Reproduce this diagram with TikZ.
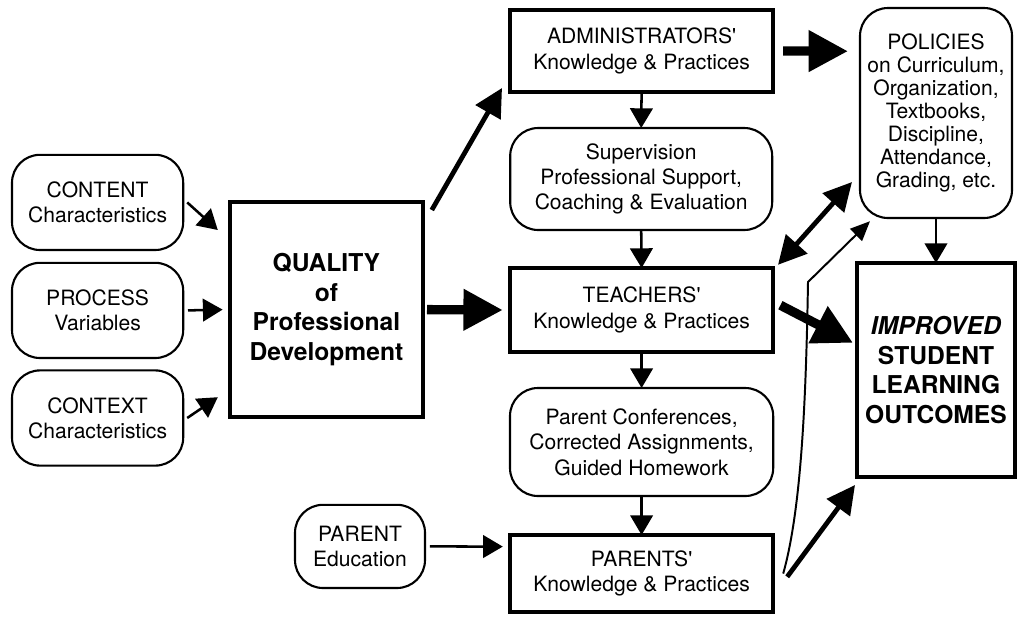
\documentclass[tikz,border=0pt]{standalone}
\usepackage{fontspec}
\setmainfont{TeX Gyre Heros}
\usetikzlibrary{arrows.meta}

\begin{document}
\begin{tikzpicture}[every node/.style={align=center, inner sep=0pt, outer sep=0pt, font=\fontsize{15}{18}\selectfont},
roundbox/.style={draw, line width=1.5pt, rounded corners=0.7cm},
heavybox/.style={draw, line width=3.2pt},
bigbold/.style={font=\fontsize{17.5}{21}\selectfont\bfseries},
thinarr/.style={line width=1.8pt, -{Triangle[length=14pt,width=16pt]}},
hairarr/.style={line width=1.4pt, -{Triangle[length=14pt,width=12pt]}},
medarr/.style={line width=3.4pt, -{Triangle[length=20pt,width=20pt]}},
twoarr/.style={line width=3.4pt, {Triangle[length=20pt,width=20pt]}-{Triangle[length=20pt,width=20pt]}},
fatarr/.style={line width=6.6pt, -{Triangle[length=28pt,width=28pt]}}]
\useasboundingbox (0,0) rectangle (25.45,-15.4);

\node[roundbox, minimum width=4.28cm, minimum height=2.38cm] (content) at (2.44,-5.06) {CONTENT\\Characteristics};
\node[roundbox, minimum width=4.28cm, minimum height=2.38cm] (process) at (2.44,-7.76) {PROCESS\\Variables};
\node[roundbox, minimum width=4.28cm, minimum height=2.38cm] (context) at (2.44,-10.45) {CONTEXT\\Characteristics};
\node[heavybox, bigbold, minimum width=4.83cm, minimum height=5.38cm] (quality) at (8.16,-7.74) {QUALITY\\of\\Professional\\Development};

\node[heavybox, minimum width=6.58cm, minimum height=2.05cm] (admin) at (16.04,-1.275) {ADMINISTRATORS\textquotesingle\\Knowledge \& Practices};
\node[roundbox, minimum width=6.55cm, minimum height=2.55cm] (superv) at (16.03,-4.475) {Supervision\\Professional Support,\\Coaching \& Evaluation};
\node[heavybox, minimum width=6.58cm, minimum height=2.1cm] (teachers) at (16.04,-7.75) {TEACHERS\textquotesingle\\Knowledge \& Practices};
\node[roundbox, minimum width=6.58cm, minimum height=2.7cm] (parconf) at (16.04,-11.05) {Parent Conferences,\\Corrected Assignments,\\Guided Homework};
\node[heavybox, minimum width=6.58cm, minimum height=1.93cm] (parents) at (16.04,-14.34) {PARENTS\textquotesingle\\Knowledge \& Practices};
\node[roundbox, minimum width=3.25cm, minimum height=2.08cm] (paredu) at (9.0,-13.66) {PARENT\\Education};

\node[roundbox, minimum width=3.8cm, minimum height=5.25cm, font=\fontsize{15}{16.3}\selectfont] (policies) at (23.4,-2.825) {POLICIES\\on Curriculum,\\Organization,\\Textbooks,\\Discipline,\\Attendance,\\Grading, etc.};
\node[heavybox, bigbold, minimum width=3.95cm, minimum height=5.35cm] (improved) at (23.4,-9.25) {\textit{IMPROVED}\\STUDENT\\LEARNING\\OUTCOMES};

\draw[thinarr] ([xshift=0.1cm]content.east) -- ([xshift=-0.3cm,yshift=-0.7cm]quality.north west);
\draw[thinarr] ([xshift=0.12cm]process.east) -- ([xshift=-0.18cm]quality.west);
\draw[thinarr] ([xshift=0.1cm]context.east) -- ([xshift=-0.3cm,yshift=0.5cm]quality.south west);
\draw[medarr] ([xshift=0.22cm,yshift=-0.2cm]quality.north east) -- ([xshift=-0.2cm,yshift=0.1cm]admin.south west);
\draw[fatarr] ([xshift=0.1cm]quality.east) -- ([xshift=-0.18cm]teachers.west);

\draw[thinarr] (admin.south) -- (superv.north);
\draw[thinarr] (superv.south) -- (teachers.north);
\draw[thinarr] (teachers.south) -- (parconf.north);
\draw[thinarr] (parconf.south) -- (parents.north);
\draw[thinarr] ([xshift=0.12cm]paredu.east) -- ([xshift=-0.18cm,yshift=-0.29cm]parents.north west);

\draw[fatarr] ([xshift=0.25cm]admin.east) -- ([xshift=-0.3cm,yshift=-1.08cm]policies.north west);
\draw[twoarr] ([xshift=0.12cm,yshift=0.08cm]teachers.north east) -- ([xshift=-0.2cm,yshift=0.9cm]policies.south west);
\draw[fatarr] ([xshift=0.18cm,yshift=0.12cm]teachers.east) -- ([xshift=-0.1cm,yshift=0.68cm]improved.west);
\draw[thinarr] (policies.south) -- (improved.north);
\draw[medarr] ([xshift=0.35cm,yshift=-0.08cm]parents.east) -- ([xshift=-0.05cm,yshift=-0.2cm]improved.south west);
\coordinate (kink) at (20.2,-7.05);
\draw[hairarr] ([xshift=0.25cm]parents.east) .. controls +(0.45,1.6) and +(-0.05,-3) .. (kink) -- ([xshift=0.25cm,yshift=-0.08cm]policies.south west);
\end{tikzpicture}
\end{document}
